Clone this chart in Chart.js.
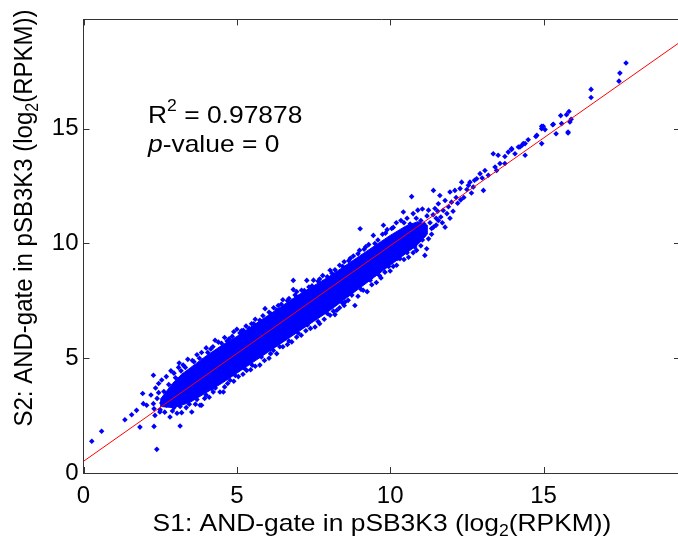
<!DOCTYPE html>
<html>
<head>
<meta charset="utf-8">
<script src="https://cdn.jsdelivr.net/npm/chart.js@4.4.1/dist/chart.umd.min.js"></script>
<style>
  html, body { margin: 0; padding: 0; background: #fff; overflow: hidden; }
  canvas { display: block; }
</style>
</head>
<body>
<canvas id="chart" width="690" height="541"></canvas>
<script>
// axis ranges and ticks
const xRange = [0, 19.45];
const yRange = [0, 19.76];
const tickValues = [0, 5, 10, 15];

// dense core of the cloud (S1 value, upper and lower S2 edge)
const bandX      = [2.5, 2.9, 3.2, 3.5, 4.0, 4.5, 5.0, 5.5, 6.0, 6.5, 7.0, 7.5, 8.0, 8.5, 9.0, 9.5, 10.0, 10.5, 10.9, 11.2];
const bandTop    = [3.2, 3.9, 4.3, 4.6, 5.1, 5.55, 5.95, 6.4, 6.85, 7.3, 7.75, 8.15, 8.55, 9.0, 9.45, 9.9, 10.35, 10.75, 10.95, 10.8];
const bandBottom = [2.9, 2.85, 2.95, 3.1, 3.5, 3.9, 4.35, 4.8, 5.25, 5.7, 6.15, 6.6, 7.05, 7.55, 8.05, 8.55, 9.05, 9.55, 9.95, 10.4];

// single genes outside / on the border of the core: [S1, S2]
const lowTail = [
  [0.27,1.38],[0.59,1.82],[1.35,2.32],[1.57,2.54],[1.73,2.73],[1.84,2.0],[1.93,3.46],[1.95,3.02],
  [2.06,2.95],[2.28,3.02],[2.28,4.26],[2.3,2.03],[2.33,2.51],[2.39,1.03],[2.49,2.66],[2.6,3.02],
  [3.15,2.05],[2.2,3.4],[2.35,3.7],[2.4,3.25],[2.3,2.8],[2.45,3.5]
];
const upperEdge = [
  [2.45,3.9],[2.55,4.05],[2.7,4.2],[2.85,4.45],[2.95,4.35],[3.1,4.6],[3.12,4.79],[3.25,4.7],
  [3.4,4.95],[3.55,4.9],[3.7,5.15],[3.85,5.25],[4.0,5.45],[4.15,5.4],[4.29,5.78],[4.4,5.7],
  [4.6,5.9],[4.75,5.85],[4.9,6.15],[5.0,6.26],[5.15,6.2],[5.21,6.22],[5.3,6.4],[5.48,6.5],
  [5.6,6.7],[5.75,6.65],[5.92,7.16],[6.05,7.0],[6.2,7.2],[6.35,7.3],[6.5,7.55],[6.65,7.5],
  [6.84,8.39],[6.84,7.99],[6.95,7.9],[7.11,7.96],[7.28,8.39],[7.35,8.1],[7.5,8.4],[7.65,8.35],
  [7.8,8.6],[7.95,8.55],[8.04,8.83],[8.2,8.85],[8.35,9.05],[8.5,9.2],[8.65,9.25],[8.8,9.45],
  [9.02,10.64],[9.0,9.7],[9.15,9.75],[9.3,9.95],[9.45,10.35],[9.6,10.15],[9.78,10.79],[9.75,10.4],
  [9.9,10.6],[10.05,10.65],[10.2,10.9],[10.35,11.0],[10.43,11.37],[10.55,11.1],[10.7,12.04],
  [10.75,11.3],[10.9,11.45],[11.05,11.5],
  [2.62,3.55],[2.78,3.85],[3.0,4.15],[3.18,4.45],[3.32,4.6],[3.6,4.85],[3.78,5.0],[4.05,5.25],
  [4.22,5.5],[4.5,5.65],[4.68,5.75],[4.85,5.95],[5.1,6.1],[5.4,6.3],[5.55,6.5],[5.85,6.85],
  [6.1,6.95],[6.3,7.1],[6.45,7.35],[6.7,7.6],[6.9,7.75],[7.2,7.95],[7.45,8.15],[7.7,8.45],
  [8.1,8.7],[8.45,9.0],[8.7,9.35],[8.95,9.55],[9.2,9.85],[9.5,10.0],[9.85,10.45],[10.1,10.7],
  [10.45,10.9],[10.65,10.85],[10.85,11.1],[11.1,10.85]
];
const lowerEdge = [
  [2.5,2.75],[2.65,2.65],[2.82,2.44],[2.9,2.7],[3.05,2.6],[3.2,2.63],[3.35,2.85],[3.53,2.66],
  [3.65,3.0],[3.8,2.95],[3.85,2.95],[3.95,3.25],[4.1,3.3],[4.18,3.68],[4.23,3.53],[4.45,3.53],
  [4.56,3.53],[4.6,3.75],[4.78,4.04],[4.9,4.0],[5.05,4.2],[5.2,4.3],[5.32,4.47],[5.45,4.5],
  [5.6,4.65],[5.75,4.7],[5.9,4.9],[6.05,5.0],[6.19,5.34],[6.3,5.2],[6.5,5.5],[6.65,5.6],
  [6.79,5.71],[6.95,5.92],[7.1,6.0],[7.25,6.2],[7.4,6.3],[7.55,6.36],[7.7,6.5],[7.85,6.7],
  [8.04,6.87],[8.2,6.9],[8.26,7.09],[8.35,7.2],[8.5,7.3],[8.53,7.45],[8.63,7.52],[8.85,7.30],
  [8.95,7.7],[9.12,7.96],[9.25,7.9],[9.4,8.2],[9.55,8.3],[9.7,8.5],[9.83,8.75],[10.0,8.8],
  [10.1,9.0],[10.21,9.05],[10.32,9.34],[10.45,9.3],[10.6,9.4],[10.75,9.6],[10.86,9.70],
  [11.0,9.9],[11.13,9.48],[11.19,9.77],
  [2.55,3.05],[2.7,2.95],[2.95,2.85],[3.15,2.9],[3.45,3.0],[3.7,3.2],[4.0,3.4],[4.3,3.7],
  [4.7,3.9],[4.95,4.25],[5.25,4.55],[5.5,4.7],[5.8,5.05],[6.1,5.2],[6.4,5.5],[6.7,5.75],
  [7.0,6.1],[7.3,6.45],[7.65,6.6],[7.95,6.95],[8.15,7.05],[8.45,7.4],[8.75,7.75],[9.05,8.0],
  [9.35,8.4],[9.65,8.6],[9.95,9.0],[10.25,9.35],[10.55,9.6],[10.8,9.85],[11.05,10.15],[11.1,10.35]
];
const highTail = [
  [11.0,11.0],[11.1,10.6],[11.2,11.2],[11.3,10.9],[11.35,10.4],[11.41,10.71],[11.41,12.31],
  [11.46,11.52],[11.5,11.1],[11.57,11.73],[11.57,11.0],[11.62,12.09],[11.7,10.9],[11.73,11.44],
  [11.79,11.87],[11.79,10.71],[11.85,11.3],[11.95,12.24],[12.0,11.8],[12.05,11.4],[12.11,12.31],
  [12.2,11.75],[12.28,12.39],[12.33,12.67],[12.4,12.0],[12.55,12.53],[12.6,12.67],[12.65,12.2],
  [12.71,12.46],[12.82,12.82],[12.93,13.04],[13.04,12.31],[13.09,13.18],[13.2,12.97],[13.36,13.91],
  [13.42,13.33],[13.47,13.18],[13.52,13.84],[13.58,13.48],[13.74,13.48],[13.74,13.79],[13.85,13.98],
  [13.96,14.13],[13.96,14.09],[14.07,13.91],[14.18,14.2],[14.23,14.2],[14.29,14.27],[14.34,14.35],
  [14.4,14.35],[14.4,13.84],[14.5,14.52],[14.75,14.66],[14.78,14.71],[14.94,14.35],[14.94,15.0],
  [14.94,15.1],[14.99,15.1],[15.05,14.96],[15.3,15.17],[15.32,15.19],[15.41,14.78],[15.56,15.57],
  [15.59,15.22],[15.75,15.61],[15.8,14.85],[15.8,14.81],[15.83,15.75],[15.86,15.29],[15.9,15.41],
  [16.55,16.36],[16.55,16.71],[17.46,17.07],[17.49,17.42],[17.69,17.86],
  [11.25,11.45],[11.4,11.25],[11.55,11.4],[11.65,11.15],[11.35,10.65],[11.5,10.8],[11.9,11.6],
  [12.15,12.0],[12.3,11.9],[11.95,11.1],[12.5,12.35],[12.75,12.75],[13.0,12.85],[11.25,10.2]
];

// regression line ends
const fitX = [0, 19.45];
const fitY = [0.51, 18.77];

const FONT = "'Liberation Sans', Arial, sans-serif";
const SX = 1.1; // text in the figure is a bit wider than tall

const bandShape = bandX.map((x, i) => ({ x: x, y: bandTop[i] }))
  .concat(bandX.map((x, i) => ({ x: x, y: bandBottom[i] })).reverse());
const genes = lowTail.concat(upperEdge, lowerEdge, highTail).map(p => ({ x: p[0], y: p[1] }));
const fitLine = fitX.map((x, i) => ({ x: x, y: fitY[i] }));

// parts: [text, size, dy, italic]
function drawParts(ctx, parts, align) {
  let w = 0;
  parts.forEach(p => {
    ctx.font = (p[3] ? 'italic ' : '') + p[1] + 'px ' + FONT;
    w += ctx.measureText(p[0]).width;
  });
  let cx = align === 'center' ? -w / 2 : 0;
  ctx.fillStyle = '#000';
  ctx.textBaseline = 'alphabetic';
  ctx.textAlign = 'left';
  parts.forEach(p => {
    ctx.font = (p[3] ? 'italic ' : '') + p[1] + 'px ' + FONT;
    ctx.fillText(p[0], cx, p[2]);
    cx += ctx.measureText(p[0]).width;
  });
}

const frame = {
  id: 'frame',
  afterDatasetsDraw(chart) {
    const ctx = chart.ctx;
    const a = chart.chartArea;
    const xs = chart.scales.x, ys = chart.scales.y;
    ctx.save();
    ctx.strokeStyle = '#333';
    ctx.lineWidth = 1;
    ctx.beginPath();
    ctx.moveTo(a.left, Math.round(a.top) + 0.5);
    ctx.lineTo(a.right, Math.round(a.top) + 0.5);
    ctx.moveTo(Math.round(a.right) + 0.5, a.top);
    ctx.lineTo(Math.round(a.right) + 0.5, a.bottom);
    xs.ticks.forEach(t => {
      const px = Math.round(xs.getPixelForValue(t.value)) + 0.5;
      ctx.moveTo(px, a.bottom); ctx.lineTo(px, a.bottom - 6);
      ctx.moveTo(px, a.top); ctx.lineTo(px, a.top + 6);
    });
    ys.ticks.forEach(t => {
      const py = Math.round(ys.getPixelForValue(t.value)) + 0.5;
      ctx.moveTo(a.left, py); ctx.lineTo(a.left + 6, py);
      ctx.moveTo(a.right, py); ctx.lineTo(a.right - 6, py);
    });
    ctx.stroke();
    ctx.restore();
  },
  afterDraw(chart) {
    const ctx = chart.ctx;
    // x axis title
    ctx.save();
    ctx.translate(382, 531);
    ctx.scale(SX, 1);
    drawParts(ctx, [['S1: AND-gate in pSB3K3 (log', 24, 0], ['2', 16, 5], ['(RPKM))', 24, 0]], 'center');
    ctx.restore();
    // y axis title
    ctx.save();
    ctx.translate(32, 218);
    ctx.rotate(-Math.PI / 2);
    ctx.scale(1, SX);
    drawParts(ctx, [['S2: AND-gate in pSB3K3 (log', 24, 0], ['2', 16, 5], ['(RPKM))', 24, 0]], 'center');
    ctx.restore();
    // statistics
    ctx.save();
    ctx.translate(148, 123);
    ctx.scale(SX, 1);
    drawParts(ctx, [['R', 24, 0], ['2', 16, -12], [' = 0.97878', 24, 0]], 'left');
    ctx.restore();
    ctx.save();
    ctx.translate(148, 152);
    ctx.scale(SX, 1);
    drawParts(ctx, [['p', 24, 0, true], ['-value = 0', 24, 0]], 'left');
    ctx.restore();
  }
};

new Chart(document.getElementById('chart').getContext('2d'), {
  type: 'scatter',
  data: {
    datasets: [
      {
        data: bandShape,
        showLine: true,
        fill: 'shape',
        backgroundColor: '#0000ff',
        borderColor: '#0000ff',
        borderWidth: 1,
        pointRadius: 0,
        tension: 0,
        order: 3
      },
      {
        data: genes,
        pointStyle: 'rectRot',
        pointRadius: 2.8,
        backgroundColor: '#0000ff',
        borderColor: '#0000ff',
        borderWidth: 0,
        order: 2
      },
      {
        data: fitLine,
        showLine: true,
        borderColor: '#ff0000',
        borderWidth: 1,
        pointRadius: 0,
        order: 1
      }
    ]
  },
  options: {
    responsive: false,
    animation: false,
    layout: { padding: { top: 19, right: 10, left: 0, bottom: 0 } },
    plugins: { legend: { display: false }, tooltip: { enabled: false } },
    scales: {
      x: {
        min: xRange[0],
        max: xRange[1],
        afterBuildTicks: s => { s.ticks = tickValues.map(v => ({ value: v })); },
        ticks: { includeBounds: false, color: '#000', font: { family: FONT, size: 24 }, padding: 9, maxRotation: 0 },
        grid: { display: false, drawTicks: false },
        border: { color: '#333', width: 1 },
        afterFit: s => { s.height = 68; }
      },
      y: {
        min: yRange[0],
        max: yRange[1],
        afterBuildTicks: s => { s.ticks = tickValues.map(v => ({ value: v })); },
        ticks: { includeBounds: false, color: '#000', font: { family: FONT, size: 24 }, padding: 5 },
        grid: { display: false, drawTicks: false },
        border: { color: '#333', width: 1 },
        afterFit: s => { s.width = 83.5; }
      }
    }
  },
  plugins: [frame]
});
</script>
</body>
</html>
